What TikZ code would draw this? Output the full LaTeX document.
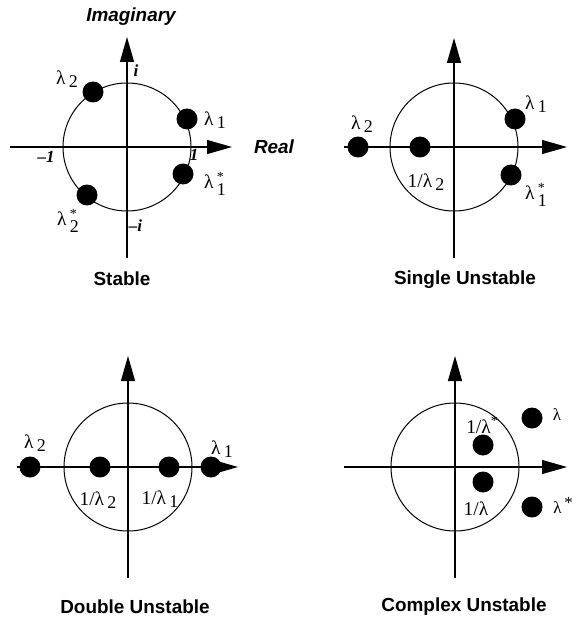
\documentclass[tikz,border=0pt]{standalone}
\usepackage{fontspec}
\setmainfont{Liberation Serif}
\setsansfont{Liberation Sans}
\usetikzlibrary{arrows.meta}
\newcommand\lsub[2][0.12em]{\,\raisebox{-#1}{\fontsize{18}{18}\selectfont #2}}
\newcommand\lsubst[1]{\,\raisebox{-0.35em}{\fontsize{18}{18}\selectfont\makebox[0pt][l]{\raisebox{0.8em}{\fontsize{14}{14}\selectfont *}}#1}}
\begin{document}
\begin{tikzpicture}[x=1bp,y=-1bp,
 axis/.style={line width=1.2bp,-{Triangle[length=25bp,width=14bp]}},
 unitc/.style={line width=1bp},
 eig/.style={circle,fill=black,draw=none,inner sep=0pt,minimum size=21bp},
 lbl/.style={font=\fontsize{19.5}{19.5}\selectfont,inner sep=0pt},
 slbl/.style={font=\fontsize{17}{17}\selectfont,inner sep=0pt},
 tickl/.style={font=\bfseries\itshape\fontsize{17}{17}\selectfont,inner sep=0pt},
 captxt/.style={font=\sffamily\bfseries\fontsize{19}{19}\selectfont,inner sep=0pt},
 axlbl/.style={font=\sffamily\bfseries\itshape\fontsize{19}{19}\selectfont,inner sep=0pt}]
\useasboundingbox (0,0) rectangle (578,621);

% ---------- Panel 1: Stable ----------
\coordinate (o1) at (127,147);
\coordinate (h1a) at (10,147);  \coordinate (h1b) at (232,147);
\coordinate (v1a) at (127,258); \coordinate (v1b) at (127,37);
\draw[unitc] (o1) circle[radius=64];
\draw[axis] (h1a) -- (h1b);
\draw[axis] (v1a) -- (v1b);
\node[eig] (p1l2) at (93,92) {};
\node[eig] (p1l1) at (187,119) {};
\node[eig] (p1l1s) at (183,174) {};
\node[eig] (p1l2s) at (87,195) {};
\node[axlbl] (imag) at (131,17) {Imaginary};
\node[axlbl] (real) at (274,147) {Real};
\node[tickl] (ti) at (136,71) {i};
\node[tickl] (tmi) at (135.5,226) {–i};
\node[tickl] (tm1) at (46,157) {–1};
\node[tickl] (t1) at (194,155) {1};
\node[lbl] (L1l2) at (67,79) {λ\lsub{2}};
\node[lbl] (L1l1) at (215,120) {λ\lsub{1}};
\node[lbl] (L1l1s) at (215,184) {λ\lsubst{1}};
\node[lbl] (L1l2s) at (68,221) {λ\lsubst{2}};
\node[captxt] (c1) at (122,279) {Stable};

% ---------- Panel 2: Single Unstable ----------
\coordinate (o2) at (454,147);
\coordinate (h2a) at (344,147); \coordinate (h2b) at (567,147);
\coordinate (v2a) at (454,258); \coordinate (v2b) at (454,38);
\draw[unitc] (o2) circle[radius=64];
\draw[axis] (h2a) -- (h2b);
\draw[axis] (v2a) -- (v2b);
\node[eig] (p2l2) at (358,147) {};
\node[eig] (p2il2) at (420,147) {};
\node[eig] (p2l1) at (515,119) {};
\node[eig] (p2l1s) at (511,175) {};
\node[lbl] (L2l2) at (362,124) {λ\lsub{2}};
\node[lbl] (L2il2) at (426,182) {1/λ\lsub[0.15em]{2}};
\node[lbl] (L2l1) at (536,104) {λ\lsub{1}};
\node[lbl] (L2l1s) at (536,195) {λ\lsubst{1}};
\node[captxt] (c2) at (465,280) {Single Unstable};

% ---------- Panel 3: Double Unstable ----------
\coordinate (o3) at (128,467);
\coordinate (h3a) at (17,467);  \coordinate (h3b) at (238,467);
\coordinate (v3a) at (128,578); \coordinate (v3b) at (128,356);
\draw[unitc] (o3) circle[radius=64];
\draw[axis] (h3a) -- (h3b);
\draw[axis] (v3a) -- (v3b);
\node[eig] (p3l2) at (30,467) {};
\node[eig] (p3il2) at (100,467) {};
\node[eig] (p3il1) at (169,467) {};
\node[eig] (p3l1) at (211,467) {};
\node[lbl] (L3l2) at (35,443) {λ\lsub{2}};
\node[lbl] (L3l1) at (222,449) {λ\lsub{1}};
\node[lbl] (L3il2) at (98,500) {1/λ\lsub[0.15em]{2}};
\node[lbl] (L3il1) at (160,499) {1/λ\lsub[0.15em]{1}};
\node[captxt] (c3) at (135,607) {Double Unstable};

% ---------- Panel 4: Complex Unstable ----------
\coordinate (o4) at (455,467);
\coordinate (h4a) at (344,467); \coordinate (h4b) at (567,467);
\coordinate (v4a) at (455,578); \coordinate (v4b) at (455,356);
\draw[unitc] (o4) circle[radius=64];
\draw[axis] (h4a) -- (h4b);
\draw[axis] (v4a) -- (v4b);
\node[eig] (p4l) at (532,418) {};
\node[eig] (p4ils) at (483,445) {};
\node[eig] (p4il) at (483,482) {};
\node[eig] (p4ls) at (532,507) {};
\node[slbl] (L4l) at (557,415) {λ};
\node[slbl] (L4ls) at (563,505) {λ\,\raisebox{0.3em}{*}};
\node[lbl] (L4ils) at (482,425) {1/λ\raisebox{0.4em}{\fontsize{14}{14}\selectfont *}};
\node[lbl] (L4il) at (476,509) {1/λ};
\node[captxt] (c4) at (464,607) {Complex Unstable};
\end{tikzpicture}
\end{document}
